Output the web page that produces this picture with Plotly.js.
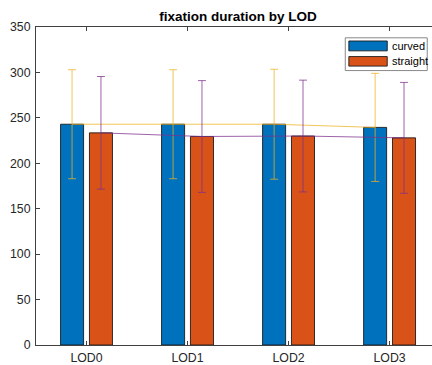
<!DOCTYPE html>
<html>
<head>
<meta charset="utf-8">
<script src="https://cdn.plot.ly/plotly-3.0.1.min.js"></script>
<style>html,body{margin:0;padding:0;background:#fff;}#chart{width:432px;height:365px;}</style>
</head>
<body>
<div id="chart"></div>
<script>
const categories = ["LOD0", "LOD1", "LOD2", "LOD3"];
const seriesNames = ["curved", "straight"];
const curved = [243, 243, 243, 239.5];
const straight = [233.5, 229.5, 230, 228];
const curvedErr = [60, 60, 60.5, 59.5];
const straightErr = [62, 61.5, 61.5, 61];

const barColors = ["#0072BD", "#D95319"];
const errColors = ["rgba(237,177,32,0.75)", "rgba(126,47,142,0.75)"];
const barWidth = 0.228;
const shift = 0.143;
const idx = categories.map((_, i) => i);
const values = [curved, straight];
const errs = [curvedErr, straightErr];
const shifts = [-shift, shift];

const traces = [];
values.forEach((v, k) => {
  traces.push({
    type: "bar", x: idx, y: v, name: seriesNames[k],
    width: barWidth, offset: shifts[k] - barWidth / 2,
    marker: {color: barColors[k], line: {color: "rgba(20,20,20,0.85)", width: 1}},
    showlegend: false, hoverinfo: "skip"
  });
});
values.forEach((v, k) => {
  traces.push({
    type: "scatter", mode: "lines",
    x: idx.map(i => i + shifts[k]), y: v,
    line: {color: errColors[k], width: 1},
    error_y: {type: "data", array: errs[k], visible: true, color: errColors[k], thickness: 1, width: 4},
    showlegend: false, hoverinfo: "skip"
  });
});

const txt = "#262626";
const font = {family: "Liberation Sans, Arial, Helvetica, sans-serif", size: 12.3, color: txt};

// legend drawn as shapes + text
const lx0 = 0.781, lx1 = 0.988, ly0 = 0.863, ly1 = 0.966;
const sw = [[0.956, 0.925], [0.907, 0.877]];
const shapes = [{type: "rect", xref: "paper", yref: "paper", x0: lx0, x1: lx1, y0: ly0, y1: ly1,
  line: {color: "#888", width: 1}, fillcolor: "#fff", layer: "above"}];
const annotations = [];
seriesNames.forEach((n, k) => {
  shapes.push({type: "rect", xref: "paper", yref: "paper", x0: 0.790, x1: 0.887, y0: sw[k][1], y1: sw[k][0],
    line: {color: "rgba(20,20,20,0.85)", width: 1}, fillcolor: barColors[k], layer: "above"});
  annotations.push({xref: "paper", yref: "paper", x: 0.893, y: (sw[k][0] + sw[k][1]) / 2,
    xanchor: "left", yanchor: "middle", text: n, showarrow: false,
    font: {family: font.family, size: 11, color: "#000"}});
});

const layout = {
  width: 432, height: 365,
  margin: {l: 36, r: 0, t: 27, b: 20, pad: 0},
  paper_bgcolor: "#fff", plot_bgcolor: "#fff",
  font: font,
  title: {text: "<b>fixation duration by LOD</b>", font: {family: font.family, size: 13.5, color: "#000"},
    x: 238 / 432, xref: "container", xanchor: "center", y: (365 - 16) / 365, yref: "container", yanchor: "middle"},
  barmode: "overlay",
  xaxis: {range: [-0.5, 3.42], tickvals: idx, ticktext: categories, ticks: "inside", ticklen: 4,
    tickcolor: "#404040", showline: true, linecolor: "#404040", linewidth: 1, mirror: "ticks",
    showgrid: false, zeroline: false, tickfont: font, ticklabelstandoff: 1, fixedrange: true},
  yaxis: {range: [0, 350], dtick: 50, ticks: "inside", ticklen: 4, tickcolor: "#404040",
    showline: true, linecolor: "#404040", linewidth: 1, showgrid: false, zeroline: false,
    tickfont: font, ticklabelstandoff: 2, fixedrange: true},
  shapes: shapes, annotations: annotations, showlegend: false
};

Plotly.newPlot("chart", traces, layout, {displayModeBar: false, staticPlot: true});
</script>
</body>
</html>
